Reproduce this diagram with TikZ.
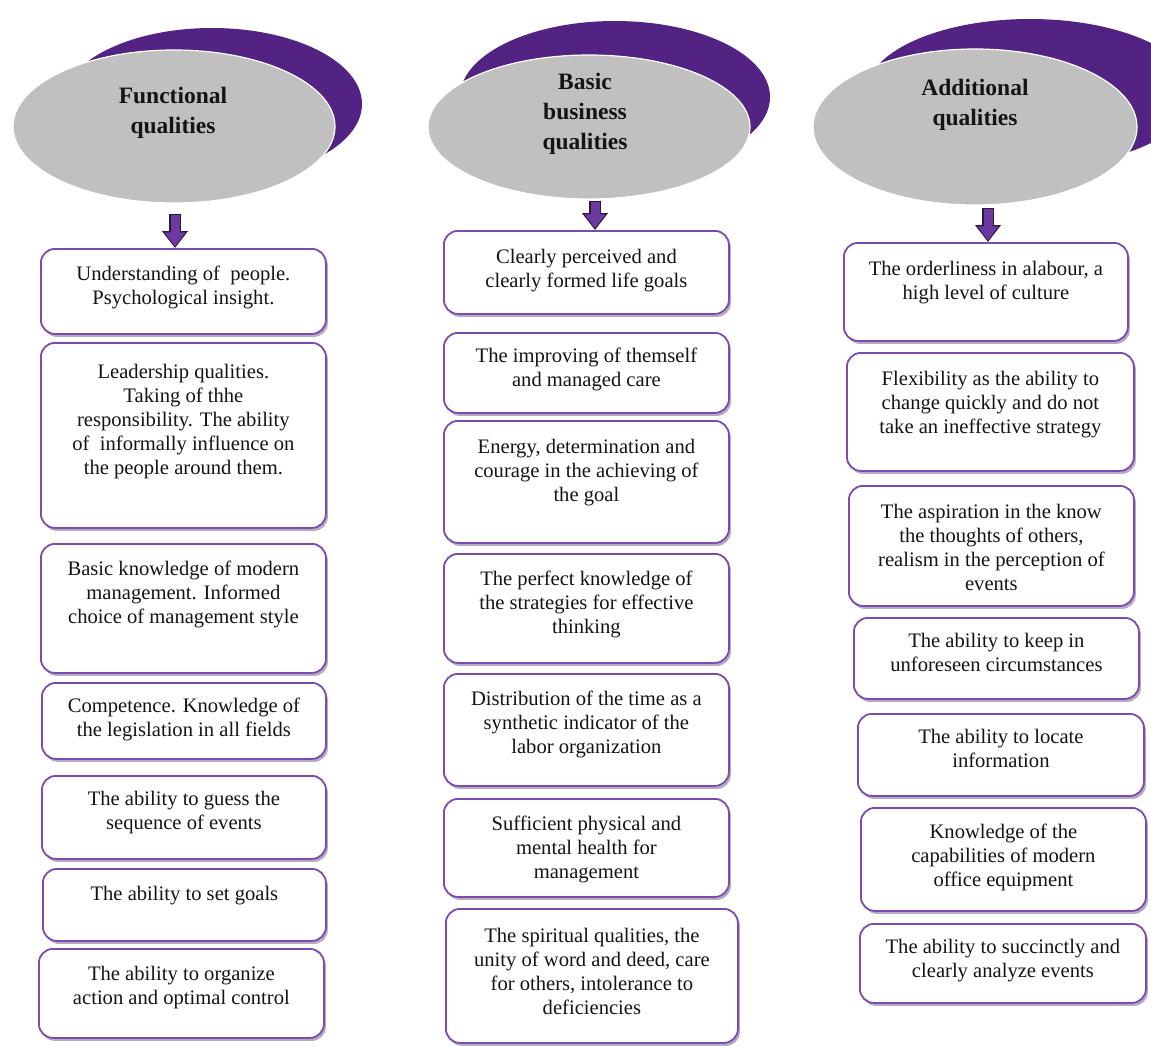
\documentclass[tikz,border=0pt]{standalone}
\usepackage{fontspec}
\setmainfont{Liberation Serif}
\usetikzlibrary{shapes.geometric,shadows,arrows.meta}
\definecolor{boxpurple}{HTML}{7B4BB0}
\definecolor{crescent}{HTML}{532384}
\definecolor{headgray}{HTML}{C0C0C0}
\definecolor{arrowfill}{HTML}{6B3AA0}
\definecolor{arrowedge}{HTML}{2A1840}
\definecolor{txtcol}{HTML}{141414}
\newcommand\qualbox[7]{%
  \node[qbox, minimum width={#4-#2}, minimum height={#5-#3}, anchor=north west] (#1) at (#2,#3) {};
  \node[qtext, anchor=north] (#1t) at ([yshift=-#6pt]#1.north) {#7};
}
\begin{document}
\begin{tikzpicture}[x=1pt,y=-1pt,
  qbox/.style={draw=boxpurple, line width=1.8pt, rounded corners=14pt, fill=white, inner sep=0pt,
    drop shadow={shadow xshift=2pt, shadow yshift=-3pt, fill=black!40!boxpurple, opacity=0.4}},
  qtext/.style={inner sep=0pt, align=center, font=\fontsize{20.6}{24}\selectfont, text=txtcol},
  headtext/.style={inner sep=0pt, align=center, font=\bfseries\fontsize{23.5}{30}\selectfont, text=txtcol},
  headell/.style={ellipse, fill=headgray, draw=white, line width=1.2pt, inner sep=0pt},
  backell/.style={ellipse, fill=crescent, inner sep=0pt},
  fatarrow/.style={preaction={draw=arrowedge, line width=12pt, shorten >=0pt, shorten <=0pt,
      -{Triangle[length=17pt,width=25pt]}},
    draw=arrowfill, line width=9pt, -{Triangle[length=14pt,width=20pt]},
    shorten >=1.6pt, shorten <=1.5pt}
]
\useasboundingbox (0,0) rectangle (1151,1045);
\fill[white] (0,0) rectangle (1151,1045);

% headers
\node[backell, minimum width=300pt, minimum height=152pt] (h1b) at (212,104) {};
\node[headell, minimum width=322pt, minimum height=153pt] (h1) at (174,126.5) {};
\node[headtext] (h1t) at (173,112.5) {Functional\\qualities};

\node[backell, minimum width=310pt, minimum height=152pt] (h2b) at (615,97) {};
\node[headell, minimum width=322pt, minimum height=144pt] (h2) at (589,127) {};
\node[headtext] (h2t) at (585,113.5) {Basic\\business\\qualities};

\node[backell, minimum width=328pt, minimum height=148pt] (h3b) at (1030,93) {};
\node[headell, minimum width=324pt, minimum height=156pt] (h3) at (975,127) {};
\node[headtext] (h3t) at (975,105) {Additional\\qualities};

% column 1
\qualbox{c1b1}{40}{248}{325}{333}{18}{Understanding of~ people.\\Psychological insight.}
\qualbox{c1b2}{40}{342}{325}{527}{22}{Leadership qualities.\\Taking of thhe\\responsibility. The ability\\of~ informally influence on\\the people around them.}
\qualbox{c1b3}{40}{543}{325}{672}{18}{Basic knowledge of modern\\management. Informed\\choice of management style}
\qualbox{c1b4}{41}{682}{325}{758}{16}{Competence. Knowledge of\\the legislation in all fields}
\qualbox{c1b5}{41}{775}{325}{858}{16}{The ability to guess the\\sequence of events}
\qualbox{c1b6}{42}{868}{325}{940}{18}{The ability to set goals}
\qualbox{c1b7}{38}{948}{323}{1037}{18}{The ability to organize\\action and optimal control}

% column 2
\qualbox{c2b1}{443}{230}{728}{313}{19}{Clearly perceived and\\clearly formed life goals}
\qualbox{c2b2}{443}{332}{728}{412}{16}{The improving of themself\\and managed care}
\qualbox{c2b3}{443}{420}{728}{542}{19}{Energy, determination and\\courage in the achieving of\\the goal}
\qualbox{c2b4}{443}{553}{728}{662}{18}{The perfect knowledge of\\the strategies for effective\\thinking}
\qualbox{c2b5}{443}{673}{728}{785}{18}{Distribution of the time as a\\synthetic indicator of the\\labor organization}
\qualbox{c2b6}{443}{798}{728}{896}{18}{Sufficient physical and\\mental health for\\management}
\qualbox{c2b7}{445}{908}{737}{1042}{20}{The spiritual qualities, the\\unity of word and deed, care\\for others, intolerance to\\deficiencies}

% column 3
\qualbox{c3b1}{843}{242}{1127}{340}{19}{The orderliness in alabour, a\\high level of culture}
\qualbox{c3b2}{846}{352}{1133}{470}{19}{Flexibility as the ability to\\change quickly and do not\\take an ineffective strategy}
\qualbox{c3b3}{848}{485}{1133}{605}{19}{The aspiration in the know\\the thoughts of others,\\realism in the perception of\\events}
\qualbox{c3b4}{853}{617}{1138}{698}{16}{The ability to keep in\\unforeseen circumstances}
\qualbox{c3b5}{857}{713}{1143}{795}{16}{The ability to locate\\information}
\qualbox{c3b6}{860}{807}{1145}{910}{17}{Knowledge of the\\capabilities of modern\\office equipment}
\qualbox{c3b7}{859}{923}{1145}{1002}{16}{The ability to succinctly and\\clearly analyze events}

% arrows
\coordinate (a1) at ([xshift=1pt,yshift=-10pt]h1.south);
\coordinate (a2) at ([xshift=6pt,yshift=-1pt]h2.south);
\coordinate (a3) at ([xshift=13pt,yshift=-2pt]h3.south);
\draw[fatarrow] (a1) -- (a1 |- c1b1.north);
\draw[fatarrow] (a2) -- (a2 |- c2b1.north);
\draw[fatarrow] (a3) -- (a3 |- c3b1.north);
\end{tikzpicture}
\end{document}
